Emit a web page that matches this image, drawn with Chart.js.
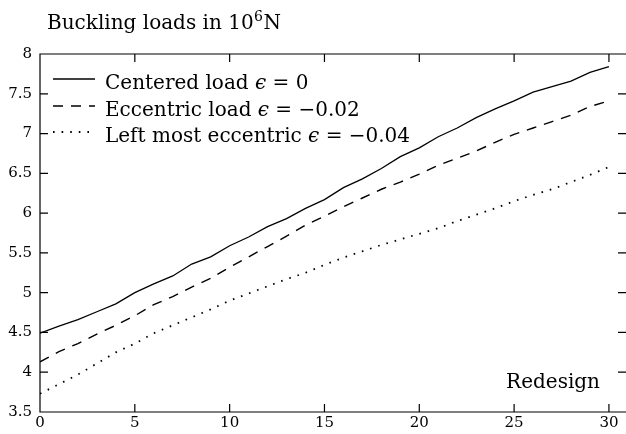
<!DOCTYPE html>
<html>
<head>
<meta charset="utf-8">
<script src="https://cdn.jsdelivr.net/npm/chart.js@4/dist/chart.umd.min.js"></script>
<style>
  html, body { margin: 0; padding: 0; background: #fff; overflow: hidden; }
  #wrap { width: 626px; height: 434px; }
</style>
</head>
<body>
<div id="wrap"><canvas id="buckling" width="626" height="434"></canvas></div>
<script>
// redesign step
const steps = [0, 1, 2, 3, 4, 5, 6, 7, 8, 9, 10, 11, 12, 13, 14, 15, 16, 17, 18, 19, 20, 21, 22, 23, 24, 25, 26, 27, 28, 29, 30];
// buckling loads, 10^6 N
const centered = [4.49, 4.58, 4.66, 4.76, 4.86, 5.00, 5.11, 5.21, 5.36, 5.45, 5.59, 5.70, 5.83, 5.93, 6.06, 6.17, 6.32, 6.43, 6.56, 6.71, 6.82, 6.96, 7.07, 7.20, 7.31, 7.41, 7.52, 7.59, 7.66, 7.77, 7.84];
const eccentric = [4.13, 4.26, 4.36, 4.48, 4.59, 4.71, 4.85, 4.95, 5.07, 5.18, 5.32, 5.45, 5.58, 5.71, 5.85, 5.96, 6.08, 6.19, 6.30, 6.39, 6.49, 6.60, 6.69, 6.78, 6.89, 6.99, 7.07, 7.15, 7.23, 7.34, 7.41];
const leftMost = [3.73, 3.85, 3.97, 4.11, 4.25, 4.36, 4.49, 4.59, 4.69, 4.79, 4.90, 4.99, 5.08, 5.17, 5.25, 5.35, 5.44, 5.52, 5.60, 5.67, 5.74, 5.81, 5.90, 5.98, 6.06, 6.15, 6.23, 6.30, 6.39, 6.48, 6.58];
const seriesLabels = ["Centered load ϵ = 0", "Eccentric load ϵ = −0.02", "Left most eccentric ϵ = −0.04"];
const xTicks = [0, 5, 10, 15, 20, 25, 30];

const serif = "'DejaVu Serif', serif";

function pairs(ys) {
  return steps.map((x, i) => ({ x: x, y: ys[i] }));
}

// gnuplot-ish frame: inward ticks on all sides, right border falls just off the picture
const framePlugin = {
  id: "frame",
  afterDraw(chart) {
    const ctx = chart.ctx;
    const a = chart.chartArea;
    const xs = chart.scales.x;
    const ys = chart.scales.y;
    const tl = 8;
    ctx.save();
    ctx.strokeStyle = "#000";
    ctx.lineWidth = 1.2;
    ctx.beginPath();
    ctx.moveTo(a.right, a.top);
    ctx.lineTo(a.left, a.top);
    ctx.lineTo(a.left, a.bottom);
    ctx.lineTo(a.right, a.bottom);
    xs.ticks.forEach((t) => {
      const px = xs.getPixelForValue(t.value);
      if (px <= a.left + 1) return;
      ctx.moveTo(px, a.bottom);
      ctx.lineTo(px, a.bottom - tl);
      ctx.moveTo(px, a.top);
      ctx.lineTo(px, a.top + tl);
    });
    ys.ticks.forEach((t) => {
      const py = ys.getPixelForValue(t.value);
      if (py >= a.bottom - 1 || py <= a.top + 1) return;
      ctx.moveTo(a.left, py);
      ctx.lineTo(a.left + tl, py);
      ctx.moveTo(a.right, py);
      ctx.lineTo(a.right - tl, py);
    });
    ctx.stroke();

    // title with superscript
    ctx.fillStyle = "#000";
    ctx.textBaseline = "alphabetic";
    ctx.textAlign = "left";
    ctx.font = "20px " + serif;
    let x = 47;
    const base = 29;
    const t1 = "Buckling loads in 10";
    ctx.fillText(t1, x, base);
    x += ctx.measureText(t1).width;
    ctx.font = "14px " + serif;
    ctx.fillText("6", x + 0.5, base - 8);
    x += ctx.measureText("6").width + 1;
    ctx.font = "20px " + serif;
    ctx.fillText("N", x, base);

    // legend
    const rows = [79, 106, 132];
    chart.data.datasets.forEach((ds, i) => {
      const y = rows[i];
      ctx.save();
      ctx.lineWidth = ds.borderWidth;
      ctx.setLineDash(ds.borderDash || []);
      ctx.beginPath();
      ctx.moveTo(53, y);
      ctx.lineTo(95, y);
      ctx.stroke();
      ctx.restore();
      const parts = ds.label.split("ϵ");
      let tx = 105;
      ctx.font = "20px " + serif;
      ctx.fillText(parts[0], tx, y + 9.5);
      tx += ctx.measureText(parts[0]).width;
      ctx.font = "italic 20px " + serif;
      ctx.fillText("ϵ", tx, y + 9.5);
      tx += ctx.measureText("ϵ").width;
      ctx.font = "20px " + serif;
      ctx.fillText(parts[1], tx, y + 9.5);
    });

    ctx.textAlign = "right";
    ctx.fillText("Redesign", 600, 388);
    ctx.restore();
  },
};

new Chart(document.getElementById("buckling"), {
  type: "line",
  data: {
    datasets: [
      {
        label: seriesLabels[0],
        data: pairs(centered),
        borderColor: "#000",
        borderWidth: 1.3,
        pointRadius: 0,
        tension: 0,
      },
      {
        label: seriesLabels[1],
        data: pairs(eccentric),
        borderColor: "#000",
        borderWidth: 1.4,
        borderDash: [10, 8],
        pointRadius: 0,
        tension: 0,
      },
      {
        label: seriesLabels[2],
        data: pairs(leftMost),
        borderColor: "#000",
        borderWidth: 1.8,
        borderDash: [1.6, 7],
        pointRadius: 0,
        tension: 0,
      },
    ],
  },
  options: {
    responsive: false,
    animation: false,
    devicePixelRatio: 1,
    layout: { padding: { top: 54, right: 0, left: 0, bottom: 0 } },
    plugins: {
      legend: { display: false },
      tooltip: { enabled: false },
    },
    scales: {
      x: {
        type: "linear",
        min: 0,
        max: 30.9,
        afterBuildTicks: (scale) => {
          scale.ticks = xTicks.map((v) => ({ value: v }));
        },
        afterFit: (scale) => {
          scale.height = 22;
        },
        grid: { display: false, drawTicks: false },
        border: { display: false },
        ticks: {
          color: "#000",
          padding: 2,
          maxRotation: 0,
          font: { family: serif, size: 15 },
        },
      },
      y: {
        min: 3.5,
        max: 8,
        afterFit: (scale) => {
          scale.width = 40;
        },
        grid: { display: false, drawTicks: false },
        border: { display: false },
        ticks: {
          stepSize: 0.5,
          color: "#000",
          padding: 8,
          font: { family: serif, size: 15 },
          callback: (v) => String(Math.round(v * 10) / 10),
        },
      },
    },
  },
  plugins: [framePlugin],
});
</script>
</body>
</html>
